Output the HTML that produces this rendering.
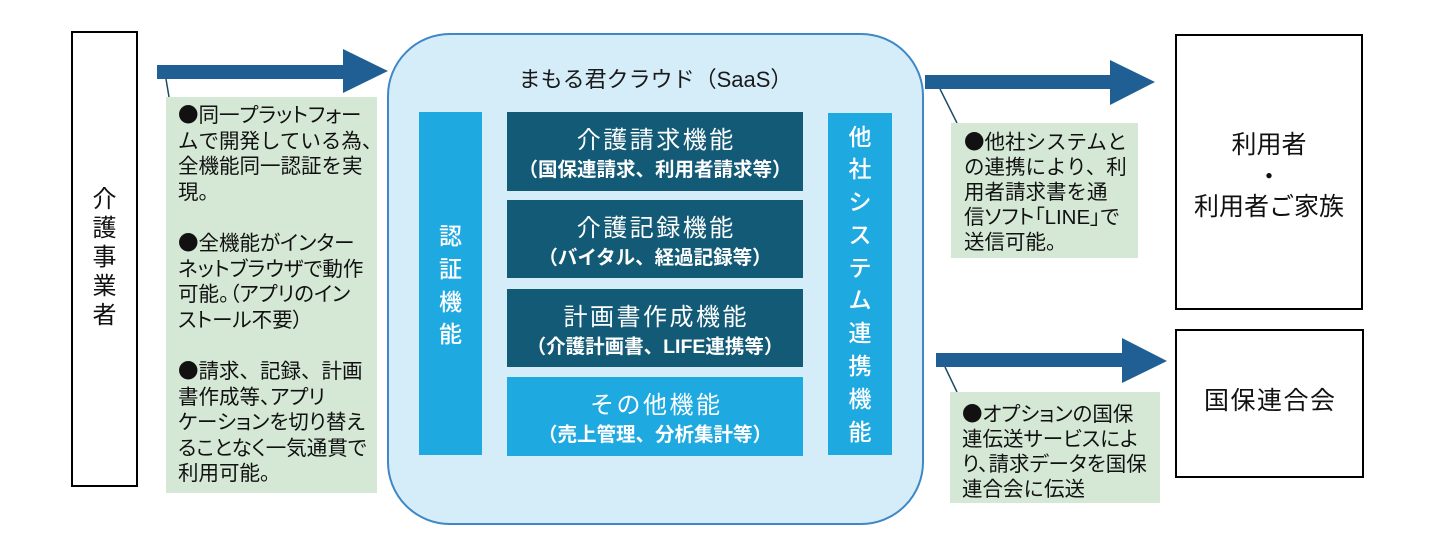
<!DOCTYPE html>
<html>
<head>
<meta charset="utf-8">
<style>
  html,body{margin:0;padding:0;background:#fff;}
  body{width:1439px;height:553px;position:relative;overflow:hidden;
    font-family:"Liberation Sans","Noto Sans CJK JP",sans-serif;color:#1a1a1a;}
  .abs{position:absolute;}
  .bbox{position:absolute;box-sizing:border-box;border:2px solid #000;background:#fff;}
  .callout{position:absolute;background:#d5e8d6;}
  .ctext{position:absolute;font-size:20.5px;white-space:nowrap;color:#111;}
  .ctext > div{height:25.6px;line-height:25.6px;}
  .ctext.l25 > div{height:25px;line-height:25px;}
  .b{font-family:"Noto Sans CJK JP",sans-serif;line-height:0;}
  .p{font-feature-settings:"palt" 1;}
  .col{position:absolute;background:#1fa9e1;color:#fff;}
  .vtext{position:absolute;left:0;right:0;text-align:center;font-size:23px;line-height:32.8px;font-weight:500;}
  .fbox{position:absolute;left:507px;width:296px;height:78px;background:#135a77;color:#fff;}
  .fbox.light{background:#1fa9e1;}
  .ft{position:absolute;left:0;right:0;top:13.5px;text-align:center;font-size:24px;line-height:30px;letter-spacing:2.5px;padding-left:2.5px;white-space:nowrap;}
  .fs{position:absolute;left:0;right:0;top:47px;text-align:center;font-size:19.5px;line-height:22px;font-weight:bold;white-space:nowrap;}
</style>
</head>
<body>

<svg class="abs" style="left:0;top:0" width="1439" height="553" viewBox="0 0 1439 553">
  <rect x="388" y="34" width="535" height="490" rx="62" ry="62" fill="#d5edf8" stroke="#3f87c6" stroke-width="2"/>
  <polygon points="157,65 343,65 343,49 388,71 343,93 343,79 157,79" fill="#1f5f93"/>
  <polygon points="925,75 1110,75 1110,60 1155,82 1110,105 1110,89 925,89" fill="#1f5f93"/>
  <polygon points="936,353 1122,353 1122,338 1167,361 1122,383 1122,367 936,367" fill="#1f5f93"/>
  <line x1="166" y1="79" x2="169" y2="97" stroke="#1c4c66" stroke-width="1.5"/>
  <line x1="940" y1="89" x2="957" y2="123" stroke="#1c4c66" stroke-width="1.5"/>
  <line x1="945" y1="367" x2="957" y2="392" stroke="#1c4c66" stroke-width="1.5"/>
</svg>

<!-- 介護事業者 -->
<div class="bbox" style="left:71px;top:31px;width:67px;height:456px;"></div>
<div class="abs" style="left:71px;width:67px;top:185px;text-align:center;font-size:24px;line-height:29px;color:#111;">介<br>護<br>事<br>業<br>者</div>

<!-- left callout -->
<div class="callout" style="left:166px;top:97px;width:211px;height:396px;"></div>
<div class="ctext" style="left:178px;top:103px;">
  <div class="p"><span class="b">●</span>同一プラットフォー</div>
  <div>ムで開発している為、</div>
  <div>全機能同一認証を実</div>
  <div>現。</div>
  <div>&nbsp;</div>
  <div class="p"><span class="b">●</span>全機能がインター</div>
  <div class="p">ネットブラウザで動作</div>
  <div class="p">可能。（アプリのイン</div>
  <div class="p">ストール不要）</div>
  <div>&nbsp;</div>
  <div><span class="b">●</span>請求、記録、計画</div>
  <div class="p">書作成等、アプリ</div>
  <div class="p">ケーションを切り替え</div>
  <div class="p">ることなく一気通貫で</div>
  <div>利用可能。</div>
</div>

<!-- main title -->
<div class="abs" style="left:388px;width:535px;top:65px;text-align:center;font-size:22px;line-height:30px;color:#1a1a1a;white-space:nowrap;">まもる君クラウド（SaaS）</div>

<!-- left column -->
<div class="col" style="left:419px;top:112px;width:63px;height:343px;">
  <div class="vtext" style="top:108px;">認<br>証<br>機<br>能</div>
</div>

<!-- right column -->
<div class="col" style="left:828px;top:113px;width:64px;height:342px;">
  <div class="vtext" style="top:7.5px;">他<br>社<br>シ<br>ス<br>テ<br>ム<br>連<br>携<br>機<br>能</div>
</div>

<!-- function boxes -->
<div class="fbox" style="top:112px;height:79px;">
  <div class="ft">介護請求機能</div>
  <div class="fs">（国保連請求、利用者請求等）</div>
</div>
<div class="fbox" style="top:200px;">
  <div class="ft">介護記録機能</div>
  <div class="fs">（バイタル、経過記録等）</div>
</div>
<div class="fbox" style="top:289px;">
  <div class="ft">計画書作成機能</div>
  <div class="fs">（介護計画書、LIFE連携等）</div>
</div>
<div class="fbox light" style="top:377px;height:79px;">
  <div class="ft">その他機能</div>
  <div class="fs">（売上管理、分析集計等）</div>
</div>

<!-- right callout 1 -->
<div class="callout" style="left:951px;top:123px;width:187px;height:135px;"></div>
<div class="ctext l25" style="left:964px;top:130px;">
  <div><span class="b">●</span>他社システムと</div>
  <div>の連携により、利</div>
  <div>用者請求書を通</div>
  <div class="p">信ソフト「LINE」で</div>
  <div>送信可能。</div>
</div>

<!-- right callout 2 -->
<div class="callout" style="left:950px;top:392px;width:210px;height:111px;"></div>
<div class="ctext l25" style="left:962px;top:401.5px;">
  <div class="p"><span class="b">●</span>オプションの国保</div>
  <div class="p">連伝送サービスによ</div>
  <div class="p">り、請求データを国保</div>
  <div>連合会に伝送</div>
</div>

<!-- 利用者 box -->
<div class="bbox" style="left:1175px;top:34px;width:188px;height:276px;"></div>
<div class="abs" style="left:1175px;width:188px;top:130px;text-align:center;font-size:25px;line-height:30px;color:#111;white-space:nowrap;">利用者<br><span class="b" style="line-height:30px;">・</span><br>利用者ご家族</div>

<!-- 国保連合会 box -->
<div class="bbox" style="left:1175px;top:329px;width:189px;height:149px;"></div>
<div class="abs" style="left:1175px;width:189px;top:386px;text-align:center;font-size:25px;line-height:30px;letter-spacing:1.5px;padding-left:1.5px;box-sizing:border-box;color:#111;white-space:nowrap;">国保連合会</div>

</body>
</html>
